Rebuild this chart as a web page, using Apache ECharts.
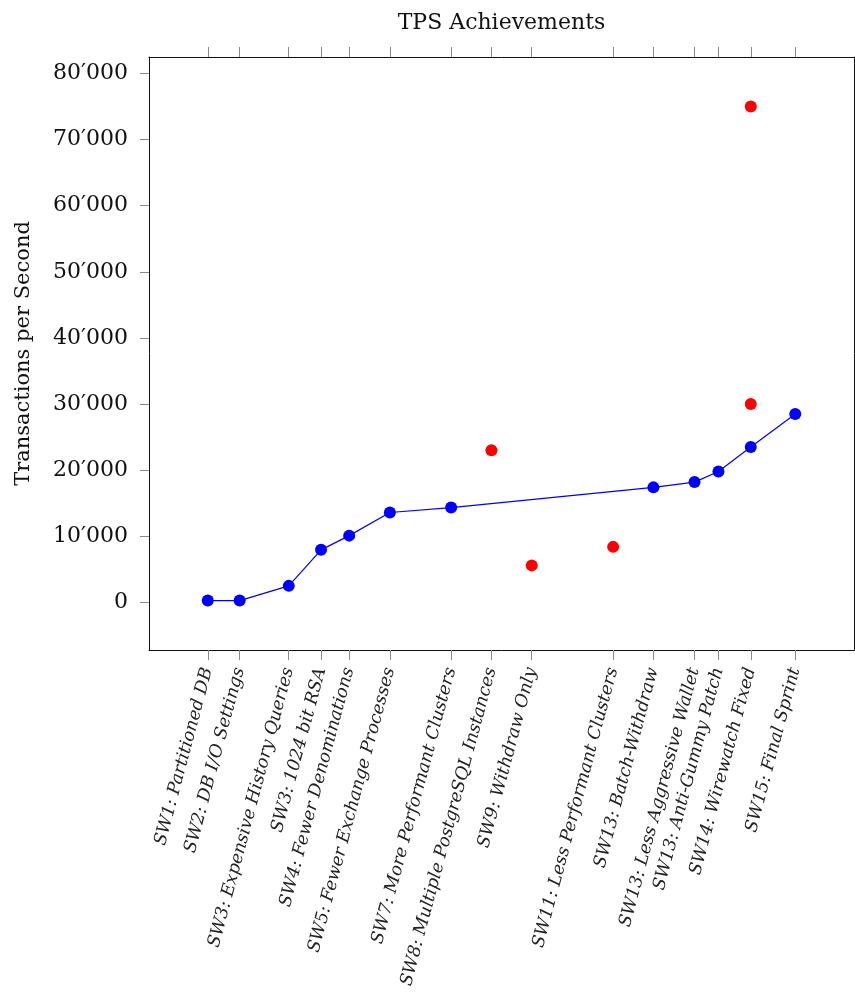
<!DOCTYPE html>
<html>
<head>
<meta charset="utf-8">
<title>TPS Achievements</title>
<script src="https://cdn.jsdelivr.net/npm/echarts@6/dist/echarts.min.js"></script>
<style>
  html, body { margin: 0; padding: 0; background: #fff; }
  #chart { width: 855px; height: 992px; }
</style>
</head>
<body>
<div id="chart"></div>
<script>
// Milestone labels along the timeline and their positions on the x scale
const milestones = [
  'SW1: Partitioned DB',
  'SW2: DB I/O Settings',
  'SW3: Expensive History Queries',
  'SW3: 1024 bit RSA',
  'SW4: Fewer Denominations',
  'SW5: Fewer Exchange Processes',
  'SW7: More Performant Clusters',
  'SW8: Multiple PostgreSQL Instances',
  'SW9: Withdraw Only',
  'SW11: Less Performant Clusters',
  'SW13: Batch-Withdraw',
  'SW13: Less Aggressive Wallet',
  'SW13: Anti-Gummy Patch',
  'SW14: Wirewatch Fixed',
  'SW15: Final Sprint'
];
const milestonePos = [1, 1.76, 2.93, 3.70, 4.37, 5.34, 6.80, 7.76, 8.72, 10.66, 11.62, 12.60, 13.17, 13.94, 15];

// Main progression (blue line)
const mainX = [1, 1.76, 2.93, 3.70, 4.37, 5.34, 6.80, 11.62, 12.60, 13.17, 13.94, 15];
const mainTps = [270, 270, 2500, 7950, 10100, 13600, 14350, 17400, 18200, 19800, 23500, 28500];

// Side experiments (red dots)
const sideX = [7.76, 8.72, 10.66, 13.94, 13.94];
const sideTps = [23000, 5600, 8400, 30000, 75000];

// Y tick values
const yTicks = [0, 10000, 20000, 30000, 40000, 50000, 60000, 70000, 80000];

const zip = (xs, ys) => xs.map((x, i) => [x, ys[i]]);

function fmtThousands(v) {
  if (v === 0) return '0';
  const s = String(Math.round(v));
  return s.replace(/\B(?=(\d{3})+(?!\d))/g, '\u2032');
}
function milestoneLabel(v) {
  const i = milestonePos.findIndex(p => Math.abs(p - v) < 1e-6);
  return i >= 0 ? milestones[i] : '';
}

const lineColor = '#111';
const tickColor = '#8a8a8a';
const serif = '"DejaVu Serif", serif';

const chart = echarts.init(document.getElementById('chart'), null, { renderer: 'canvas' });
chart.setOption({
  backgroundColor: '#fff',
  animation: false,
  grid: { left: 149, top: 57, width: 705, height: 593, containLabel: false, outerBoundsMode: 'none' },
  xAxis: [
    {
      type: 'value', position: 'bottom', min: -0.4, max: 16.4,
      splitLine: { show: false },
      axisLine: { show: true, onZero: false, lineStyle: { color: lineColor, width: 1 } },
      axisTick: { show: true, inside: false, length: 10, customValues: milestonePos, lineStyle: { color: tickColor } },
      axisLabel: {
        show: true, customValues: milestonePos, rotate: 75, margin: 18,
        formatter: milestoneLabel,
        fontFamily: serif, fontStyle: 'italic', fontSize: 17.5, color: '#222'
      }
    },
    {
      type: 'value', position: 'top', min: -0.4, max: 16.4,
      name: 'TPS Achievements', nameLocation: 'middle', nameGap: 23,
      nameTextStyle: { fontFamily: serif, fontSize: 22, color: '#111' },
      splitLine: { show: false },
      axisLine: { show: true, onZero: false, lineStyle: { color: lineColor, width: 1 } },
      axisTick: { show: true, inside: false, length: 10, customValues: milestonePos, lineStyle: { color: tickColor } },
      axisLabel: { show: false }
    }
  ],
  yAxis: [
    {
      type: 'value', position: 'left', min: -7200, max: 82500,
      name: 'Transactions per Second', nameLocation: 'middle', nameGap: 115,
      nameTextStyle: { fontFamily: serif, fontSize: 21, color: '#111' },
      splitLine: { show: false },
      axisLine: { show: true, onZero: false, lineStyle: { color: lineColor, width: 1 } },
      axisTick: { show: true, inside: false, length: 9, customValues: yTicks, lineStyle: { color: tickColor } },
      axisLabel: {
        show: true, customValues: yTicks, margin: 21, formatter: fmtThousands,
        fontFamily: serif, fontSize: 22, color: '#111'
      }
    },
    {
      type: 'value', position: 'right', min: -7200, max: 82500,
      splitLine: { show: false },
      axisLine: { show: true, onZero: false, lineStyle: { color: lineColor, width: 1 } },
      axisTick: { show: false },
      axisLabel: { show: false }
    }
  ],
  series: [
    {
      name: 'Main', type: 'line', xAxisIndex: 0, yAxisIndex: 0,
      data: zip(mainX, mainTps),
      symbol: 'circle', symbolSize: 12,
      itemStyle: { color: '#0000ff', opacity: 1 },
      lineStyle: { color: '#0000ff', width: 1.2 },
      z: 3
    },
    {
      name: 'Side', type: 'scatter', xAxisIndex: 0, yAxisIndex: 0,
      data: zip(sideX, sideTps),
      symbol: 'circle', symbolSize: 12,
      itemStyle: { color: '#ff0000', opacity: 1 },
      z: 3
    }
  ]
});
</script>
</body>
</html>
